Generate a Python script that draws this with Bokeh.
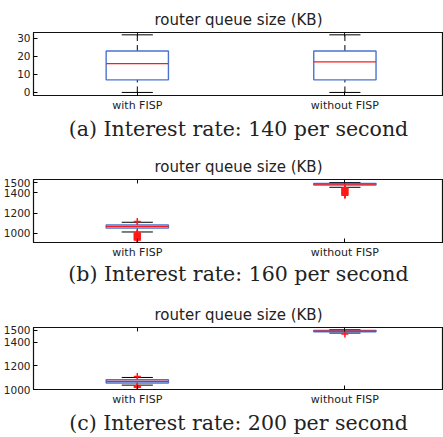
from bokeh.plotting import figure
from bokeh.layouts import column
from bokeh.models import Range1d, FixedTicker, LinearAxis, Title
from bokeh.embed import file_html
from bokeh.resources import INLINE

# ---------------- data ----------------
categories = ["with FISP", "without FISP"]
cat_pos = [1, 2]

panel_titles = ["router queue size (KB)"] * 3
captions = ["(a) Interest rate: 140 per second",
            "(b) Interest rate: 160 per second",
            "(c) Interest rate: 200 per second"]

# (a) 140 per second  [with FISP, without FISP]
a_low = [0, 0]
a_q1 = [7, 7]
a_med = [16, 17]
a_q3 = [23, 23]
a_high = [32, 32]
a_out_with = []
a_out_without = []
a_ticks = [0, 10, 20, 30]

# (b) 160 per second
b_low = [1014, 1456]
b_q1 = [1052, 1479]
b_med = [1067, 1487]
b_q3 = [1083, 1495]
b_high = [1110, 1503]
b_out_with = [1118, 1005, 1000, 995, 990, 985, 980, 975, 970, 965, 960, 955, 950, 945, 940, 935]
b_out_without = [1450, 1444, 1438, 1432, 1426, 1420, 1414, 1408, 1402, 1396, 1390, 1384, 1378]
b_ticks = [1000, 1200, 1400, 1500]

# (c) 200 per second
c_low = [1037, 1478]
c_q1 = [1055, 1488]
c_med = [1068, 1494]
c_q3 = [1082, 1499]
c_high = [1102, 1506]
c_out_with = [1111, 1030, 1024, 1018]
c_out_without = [1470]
c_ticks = [1000, 1200, 1400, 1500]

BOX_W = 0.3
CAP_W = 0.15
BOX_COLOR = "#4a73cf"
MED_COLOR = "#ff1a1a"
TXT = "#222222"


def panel(title, caption, low, q1, med, q3, high, out_with, out_without, ticks,
          ylim, height, top, bottom, title_standoff, cap_standoff):
    p = figure(width=443, height=height,
               x_range=Range1d(0.5, 2.475), y_range=Range1d(*ylim),
               output_backend="svg", toolbar_location=None,
               x_axis_type=None, y_axis_type=None,
               min_border_left=33, min_border_right=0,
               min_border_top=top, min_border_bottom=bottom)
    p.background_fill_color = "white"
    p.border_fill_color = "white"
    p.outline_line_color = "#111111"
    p.outline_line_width = 1.2
    p.grid.visible = False

    # title
    p.title.text = title
    p.title.align = "center"
    p.title.text_font = "DejaVu Sans"
    p.title.text_font_size = "15px"
    p.title.text_font_style = "normal"
    p.title.text_color = TXT
    p.title.standoff = title_standoff

    # axes
    xb = LinearAxis(ticker=FixedTicker(ticks=cat_pos),
                    major_label_overrides={x: c for x, c in zip(cat_pos, categories)})
    xb.major_tick_in = 4
    xb.major_tick_out = 0
    xb.minor_tick_line_color = None
    xb.major_label_standoff = 3
    xb.major_label_text_font = "DejaVu Sans"
    xb.major_label_text_font_size = "11px"
    xb.major_label_text_color = TXT
    xb.axis_line_color = "#111111"
    p.add_layout(xb, "below")

    # top ticks only (drawn as minor ticks so no labels)
    xa = LinearAxis(ticker=FixedTicker(ticks=[], minor_ticks=cat_pos))
    xa.minor_tick_in = 4
    xa.minor_tick_out = 0
    xa.minor_tick_line_color = "#111111"
    xa.major_label_standoff = 0
    xa.axis_line_color = "#111111"
    p.add_layout(xa, "above")

    yl = LinearAxis(ticker=FixedTicker(ticks=ticks))
    yl.major_tick_in = 4
    yl.major_tick_out = 0
    yl.minor_tick_line_color = None
    yl.major_label_standoff = 3
    yl.major_label_text_font = "DejaVu Sans"
    yl.major_label_text_font_size = "10.5px"
    yl.major_label_text_color = TXT
    yl.axis_line_color = "#111111"
    p.add_layout(yl, "left")

    # whiskers
    p.segment(x0=cat_pos, y0=q3, x1=cat_pos, y1=high, line_color="black",
              line_width=1, line_dash="6 4")
    p.segment(x0=cat_pos, y0=low, x1=cat_pos, y1=q1, line_color="black",
              line_width=1, line_dash="6 4")
    # caps
    cl = [x - CAP_W / 2 for x in cat_pos]
    cr = [x + CAP_W / 2 for x in cat_pos]
    p.segment(x0=cl, y0=high, x1=cr, y1=high, line_color="black", line_width=1)
    p.segment(x0=cl, y0=low, x1=cr, y1=low, line_color="black", line_width=1)
    # boxes
    p.vbar(x=cat_pos, width=BOX_W, bottom=q1, top=q3, fill_color=None,
           line_color=BOX_COLOR, line_width=1.4)
    # medians
    bl = [x - BOX_W / 2 for x in cat_pos]
    br = [x + BOX_W / 2 for x in cat_pos]
    p.segment(x0=bl, y0=med, x1=br, y1=med, line_color=MED_COLOR, line_width=1.2)
    # outliers
    if out_with:
        p.scatter(x=[cat_pos[0]] * len(out_with), y=out_with, marker="cross",
                  size=7, line_color=MED_COLOR, line_width=1.5)
    if out_without:
        p.scatter(x=[cat_pos[1]] * len(out_without), y=out_without, marker="cross",
                  size=7, line_color=MED_COLOR, line_width=1.5)

    cap = Title(text=caption, align="center", text_font="DejaVu Serif",
                text_font_size="20.5px", text_font_style="normal", text_color=TXT,
                standoff=cap_standoff, offset=-7)
    p.add_layout(cap, "below")
    return p


pa = panel(panel_titles[0], captions[0], a_low, a_q1, a_med, a_q3, a_high,
           a_out_with, a_out_without, a_ticks, (-1.7, 33.3), 145, 32, 50, 8, 0)
pb = panel(panel_titles[1], captions[1], b_low, b_q1, b_med, b_q3, b_high,
           b_out_with, b_out_without, b_ticks, (910, 1533), 145, 34, 48, 8, -3)
pc = panel(panel_titles[2], captions[2], c_low, c_q1, c_med, c_q3, c_high,
           c_out_with, c_out_without, c_ticks, (1000, 1525), 147, 37, 48, 8, 1)

layout = column(pa, pb, pc, spacing=0)
open("out.html", "w").write(file_html(layout, INLINE))
